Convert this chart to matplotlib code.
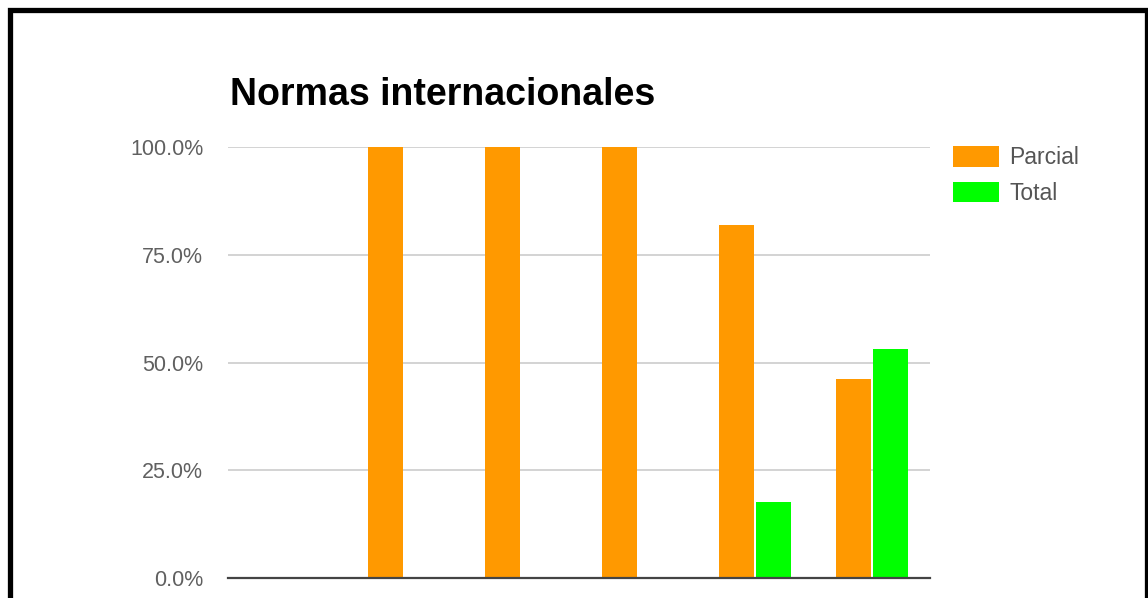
import matplotlib.pyplot as plt
import numpy as np
from matplotlib.patches import Rectangle

plt.rcParams['font.family'] = ['Liberation Sans', 'DejaVu Sans']

# grouped bars, one pair per norm (first group is empty)
categories = ['', 'B', 'C', 'D', 'E', 'F']
parcial = [0, 100.0, 100.0, 100.0, 81.8, 46.2]
total = [0, 0, 0, 0, 17.8, 53.2]
yticks = [0, 25, 50, 75, 100]

W, H = 1148, 598
fig = plt.figure(figsize=(W / 100, H / 100), dpi=100)
ax = fig.add_axes([228.3 / W, (H - 578.3) / H, (930 - 228.3) / W, (578.3 - 147) / H])

x = np.arange(len(categories))
bw = 0.30
ax.bar(x - 0.155, parcial, bw, color='#ff9900', label='Parcial', zorder=3)
ax.bar(x + 0.165, total, bw, color='#00ff00', label='Total', zorder=3)

ax.set_xlim(-0.5, len(categories) - 0.5)
ax.set_ylim(0, 100)
ax.set_yticks(yticks)
ax.set_yticklabels(['%.1f%%' % v for v in yticks])
ax.set_xticks([])
ax.tick_params(axis='y', length=0, pad=18, labelsize=15.5, labelcolor='#606060')
ax.grid(axis='y', color='#cccccc', linewidth=1.2, zorder=0)
for s in ['top', 'left', 'right']:
    ax.spines[s].set_visible(False)
ax.spines['bottom'].set_color('#444444')
ax.spines['bottom'].set_linewidth(1.6)
ax.spines['bottom'].set_zorder(4)

fig.text(230 / W, (H - 105) / H, 'Normas internacionales', fontsize=27,
         fontweight='bold', color='#000000', va='baseline', ha='left')

leg = fig.legend(loc='upper left', bbox_to_anchor=(953 / W, (H - 146) / H),
                 frameon=False, fontsize=16.5, handlelength=2.0, handleheight=1.0,
                 handletextpad=0.45, labelspacing=0.55, borderpad=0, borderaxespad=0)
for t in leg.get_texts():
    t.set_color('#555555')

# black frame round the whole picture
fig.patches.append(Rectangle((9.5 / W, -0.1), (1147 - 9.5) / W, (H - 9.5) / H + 0.1,
                             transform=fig.transFigure, fill=False,
                             edgecolor='black', linewidth=3.8, zorder=10))

fig.savefig('out.png', dpi=100)
